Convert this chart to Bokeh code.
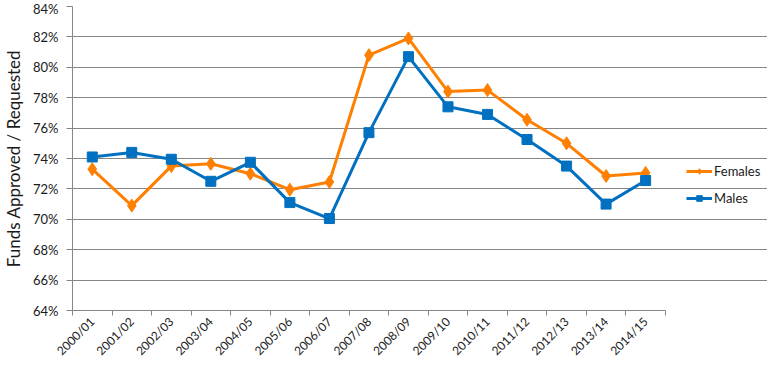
import math
import numpy as np
from bokeh.plotting import figure
from bokeh.models import (Range1d, FixedTicker, NumeralTickFormatter, Legend, LegendItem)
from bokeh.embed import file_html
from bokeh.resources import INLINE

years = ["2000/01", "2001/02", "2002/03", "2003/04", "2004/05", "2005/06", "2006/07",
         "2007/08", "2008/09", "2009/10", "2010/11", "2011/12", "2012/13", "2013/14", "2014/15"]
females_pct = [73.3, 70.9, 73.5, 73.65, 73.0, 71.95, 72.45, 80.8, 81.9, 78.4, 78.5, 76.55, 75.0, 72.85, 73.05]
males_pct = [74.1, 74.4, 73.95, 72.5, 73.75, 71.1, 70.05, 75.7, 80.7, 77.4, 76.9, 75.25, 73.5, 71.0, 72.55]
y_ticks_pct = [64, 66, 68, 70, 72, 74, 76, 78, 80, 82, 84]

FONT = "Lato"
ORANGE = "#FF7F00"
BLUE = "#0070C0"
GRAY = "#868686"

W, H = 767, 368
LEFT, TOP, BOTTOM = 66, 6, 58
DATA_W = 598                      # pixel width of the plotting area with data
FRAME_W = W - LEFT                # frame extends to the right edge (legend lives there)

n = len(years)
x = np.arange(n) + 0.5
fem = np.array(females_pct) / 100.0
mal = np.array(males_pct) / 100.0

p = figure(width=W, height=H, output_backend="svg", toolbar_location=None,
           x_range=Range1d(0, n * FRAME_W / DATA_W),
           y_range=Range1d(y_ticks_pct[0] / 100, y_ticks_pct[-1] / 100),
           min_border_left=LEFT, min_border_right=0, min_border_top=TOP, min_border_bottom=BOTTOM)
p.outline_line_color = None
p.background_fill_color = "white"
p.border_fill_color = "white"

# x axis: labels at category centers, small tick marks at category boundaries
p.xaxis.ticker = FixedTicker(ticks=list(x), minor_ticks=list(np.arange(n + 1)))
p.xaxis.bounds = (0, n)
p.xaxis.major_label_overrides = {float(xi): lab for xi, lab in zip(x, years)}
p.xaxis.major_label_orientation = math.pi / 4
p.xaxis.major_tick_out = 0
p.xaxis.major_tick_in = 0
p.xaxis.minor_tick_out = 5
p.xaxis.minor_tick_in = 0
p.xaxis.minor_tick_line_color = GRAY
p.xaxis.axis_line_color = GRAY
p.xaxis.major_label_text_font = FONT
p.xaxis.major_label_text_font_size = "12px"
p.xaxis.major_label_text_color = "#1a1a1a"
p.xaxis.major_label_standoff = 4
p.xgrid.visible = False

yt = [v / 100 for v in y_ticks_pct]
p.yaxis.ticker = FixedTicker(ticks=yt)
p.yaxis.formatter = NumeralTickFormatter(format="0%")
p.yaxis.major_tick_out = 6
p.yaxis.major_tick_in = 0
p.yaxis.minor_tick_line_color = None
p.yaxis.major_tick_line_color = GRAY
p.yaxis.axis_line_color = GRAY
p.yaxis.major_label_text_font = FONT
p.yaxis.major_label_text_font_size = "13px"
p.yaxis.major_label_text_color = "#1a1a1a"
p.yaxis.major_label_standoff = 8
p.yaxis.axis_label = "Funds Approved / Requested"
p.yaxis.axis_label_text_font = FONT
p.yaxis.axis_label_text_font_size = "17px"
p.yaxis.axis_label_text_font_style = "normal"
p.yaxis.axis_label_text_color = "#1a1a1a"
p.yaxis.axis_label_standoff = 6
p.ygrid.ticker = FixedTicker(ticks=yt)
p.ygrid.bounds = (0, n)
p.ygrid.grid_line_color = GRAY
p.ygrid.grid_line_width = 1

fl = p.line(x, fem, line_color=ORANGE, line_width=3)
fs = p.scatter(x, fem, marker="diamond", size=13, fill_color=ORANGE, line_color=ORANGE)
ml = p.line(x, mal, line_color=BLUE, line_width=3)
ms = p.scatter(x, mal, marker="square", size=10, fill_color=BLUE, line_color=BLUE)

legend = Legend(items=[LegendItem(label="Females", renderers=[fl, fs]),
                       LegendItem(label="Males", renderers=[ml, ms])],
                location=(DATA_W + 16, 104), orientation="vertical",
                glyph_width=26, glyph_height=14, label_standoff=2, spacing=11,
                padding=0, margin=0, border_line_color=None, background_fill_alpha=0,
                label_text_font=FONT, label_text_font_size="13px", label_text_color="#1a1a1a")
p.add_layout(legend, "center")

open("out.html", "w").write(file_html(p, INLINE))
